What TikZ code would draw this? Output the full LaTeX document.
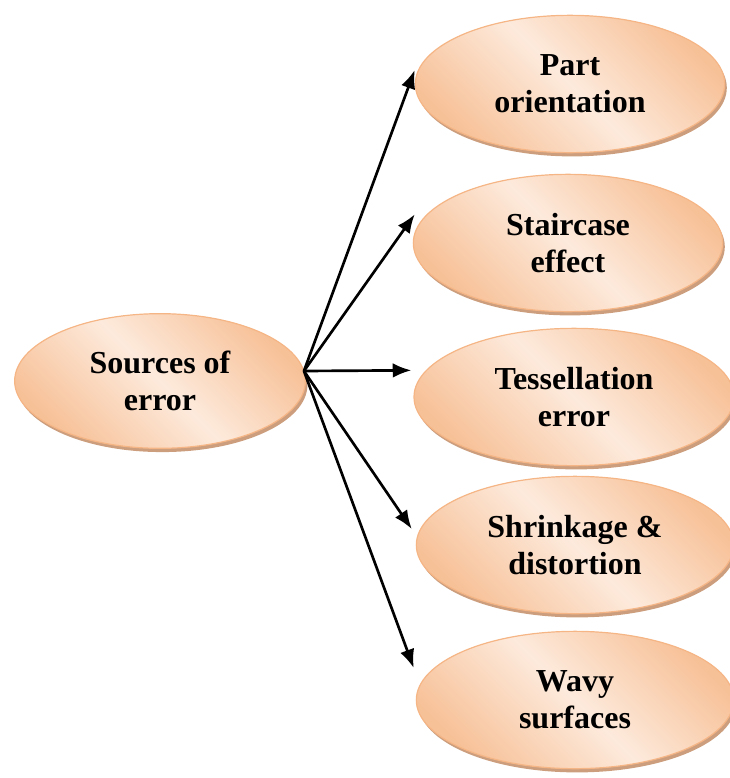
\documentclass[tikz,border=0pt]{standalone}
\usepackage{fontspec}
\setmainfont{Liberation Serif}
\usepackage{tikz}
\usetikzlibrary{arrows.meta,positioning,shapes.geometric,shadows}
\usepackage{xcolor}
\definecolor{PeachEdge}{HTML}{F7C198}
\definecolor{PeachLight}{HTML}{FDEADC}
\definecolor{PeachLine}{HTML}{F5B585}
\definecolor{PeachShadow}{HTML}{CC9E7E}

\begin{document}
\begin{tikzpicture}[x=0.75pt,y=-0.75pt,
  cause/.style={ellipse,draw=PeachLine,line width=0.9pt,
    top color=PeachEdge,bottom color=PeachEdge,middle color=PeachLight,shading angle=-45,
    drop shadow={shadow xshift=1.6pt,shadow yshift=-2.8pt,fill=PeachShadow,opacity=1},
    minimum width=232pt,minimum height=103pt,inner sep=0pt,align=center,
    font=\fontsize{24}{27.5}\selectfont\bfseries},
  link/.style={draw=black,line width=2pt,-{Latex[length=14pt,width=11pt]}}]
  \useasboundingbox (0,0) rectangle (729,778);
  \node[cause,minimum width=218pt,minimum height=101pt] (src) at (160,381) {Sources of\\error};
  \node[cause] (part) at (570,84) {Part\\orientation};
  \node[cause] (stair) at (568,243) {Staircase\\effect};
  \node[cause,minimum width=240pt] (tess) at (574,397) {Tessellation\\error};
  \node[cause,minimum width=238pt] (shrink) at (575,545) {Shrinkage \&\\distortion};
  \node[cause,minimum width=238pt] (wavy) at (575,700) {Wavy\\surfaces};
  \coordinate (hub) at ([yshift=7.5pt,xshift=-1.5pt]src.east);
  \draw[link] (hub) -- ([yshift=10.5pt]part.west);
  \draw[link] (hub) -- ([yshift=21.5pt,xshift=1.5pt]stair.west);
  \draw[link] (hub) -- ([yshift=20pt,xshift=-1.5pt]tess.west);
  \draw[link] (hub) -- ([yshift=12pt,xshift=-3pt]shrink.west);
  \draw[link] (hub) -- ([yshift=24pt,xshift=-1.5pt]wavy.west);
\end{tikzpicture}
\end{document}
